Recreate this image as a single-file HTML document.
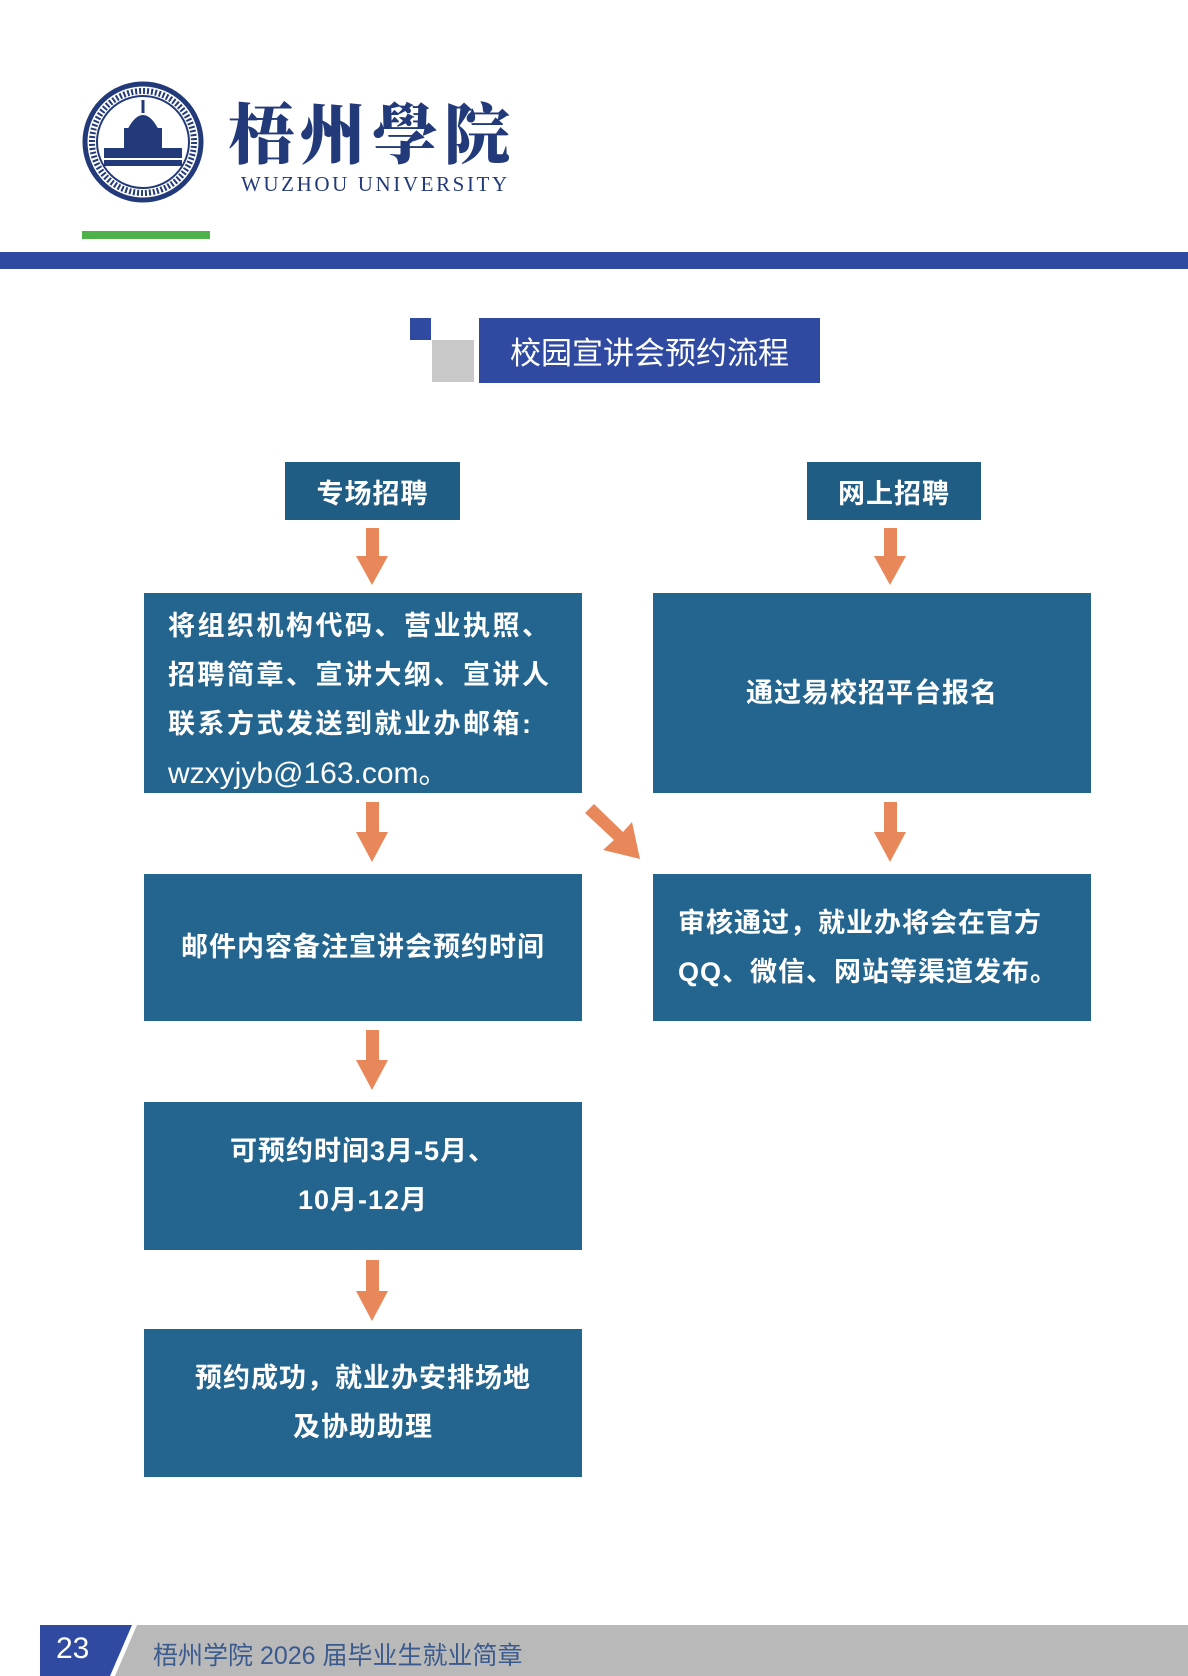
<!DOCTYPE html>
<html><head><meta charset="utf-8"><style>
body{margin:0;width:1188px;height:1676px;position:relative;background:#fff;overflow:hidden;font-family:"Liberation Sans","Noto Sans CJK SC",sans-serif}
.a{position:absolute}
.box{position:absolute;background:#23658e;color:#fff;font-weight:bold;font-size:27px;display:flex;align-items:center;justify-content:center;text-align:center;line-height:49px;letter-spacing:1px}
.hd{position:absolute;background:#1f5d85;color:#fff;font-weight:bold;font-size:27px;display:flex;align-items:center;justify-content:center;letter-spacing:1px}
</style></head><body>
<svg class="a" style="left:0;top:0" width="1188" height="1676">
<circle cx="143" cy="142" r="58" fill="none" stroke="#233a7a" stroke-width="5"/>
<circle cx="143" cy="142" r="51" fill="none" stroke="#233a7a" stroke-width="6" stroke-dasharray="2 2"/>
<circle cx="143" cy="142" r="46" fill="none" stroke="#233a7a" stroke-width="2"/>
<path d="M143 100 L143 113 M130 128 Q143 105 156 128 Z" stroke="#233a7a" stroke-width="3" fill="#233a7a"/>
<rect x="124" y="128" width="38" height="20" fill="#233a7a"/>
<rect x="104" y="148" width="78" height="10" fill="#233a7a"/>
<rect x="104" y="160" width="78" height="6" fill="#233a7a"/>
<g fill="#e8875a">
<rect x="366" y="528" width="13" height="30"/><polygon points="356,556 388,556 372,585"/>
<rect x="366" y="802" width="13" height="32"/><polygon points="356,832 388,832 372,862"/>
<rect x="366" y="1030" width="13" height="32"/><polygon points="356,1060 388,1060 372,1090"/>
<rect x="366" y="1260" width="13" height="33"/><polygon points="356,1291 388,1291 372,1321"/>
<rect x="884" y="528" width="13" height="30"/><polygon points="874,556 906,556 890,585"/>
<rect x="884" y="802" width="13" height="32"/><polygon points="874,832 906,832 890,862"/>
<polygon points="594,804 585,813 614,840 603,850 640,859 632,822 623,832"/>
</g>
<polygon points="40,1625 132,1625 110,1676 40,1676" fill="#2f4aa0"/>
<polygon points="137,1625 1188,1625 1188,1676 115,1676" fill="#b9b9b9"/>
</svg>
<div class="a" style="left:228px;top:82px;font-family:'Noto Serif CJK SC',serif;font-weight:900;font-size:66px;color:#233a7a;letter-spacing:6px">梧州學院</div>
<div class="a" style="left:241px;top:172px;font-family:'Liberation Serif',serif;font-size:21px;color:#233a7a;letter-spacing:2.6px">WUZHOU UNIVERSITY</div>
<div class="a" style="left:82px;top:231px;width:128px;height:8px;background:#4db24a"></div>
<div class="a" style="left:0;top:252px;width:1188px;height:17px;background:#2f4aa0"></div>
<div class="a" style="left:410px;top:318px;width:21px;height:22px;background:#2f4aa0"></div>
<div class="a" style="left:432px;top:340px;width:42px;height:42px;background:#c8c8c8"></div>
<div class="a" style="left:479px;top:318px;width:341px;height:65px;background:#2f4aa0;color:#fff;font-size:31px;display:flex;align-items:center;justify-content:center">校园宣讲会预约流程</div>
<div class="hd" style="left:285px;top:462px;width:175px;height:58px">专场招聘</div>
<div class="hd" style="left:807px;top:462px;width:174px;height:58px">网上招聘</div>
<div class="box" style="left:144px;top:593px;width:438px;height:200px;justify-content:flex-start;text-align:left;padding-left:24px;padding-top:14px;box-sizing:border-box;letter-spacing:2.5px"><div>将组织机构代码、营业执照、<br>招聘简章、宣讲大纲、宣讲人<br>联系方式发送到就业办邮箱:<br><span style="font-weight:normal;font-size:30px;letter-spacing:0">wzxyjyb@163.com。</span></div></div>
<div class="box" style="left:144px;top:874px;width:438px;height:147px"><div>邮件内容备注宣讲会预约时间</div></div>
<div class="box" style="left:144px;top:1102px;width:438px;height:148px"><div>可预约时间3月-5月、<br>10月-12月</div></div>
<div class="box" style="left:144px;top:1329px;width:438px;height:148px"><div>预约成功，就业办安排场地<br>及协助助理</div></div>
<div class="box" style="left:653px;top:593px;width:438px;height:200px"><div>通过易校招平台报名</div></div>
<div class="box" style="left:653px;top:874px;width:438px;height:147px;justify-content:flex-start;text-align:left;padding-left:25px;box-sizing:border-box"><div>审核通过，就业办将会在官方<br>QQ、微信、网站等渠道发布。</div></div>
<div class="a" style="left:56px;top:1632px;color:#fff;font-size:30px">23</div>
<div class="a" style="left:153px;top:1636px;color:#3b5a8e;font-size:25px">梧州学院 2026 届毕业生就业简章</div>
</body></html>
